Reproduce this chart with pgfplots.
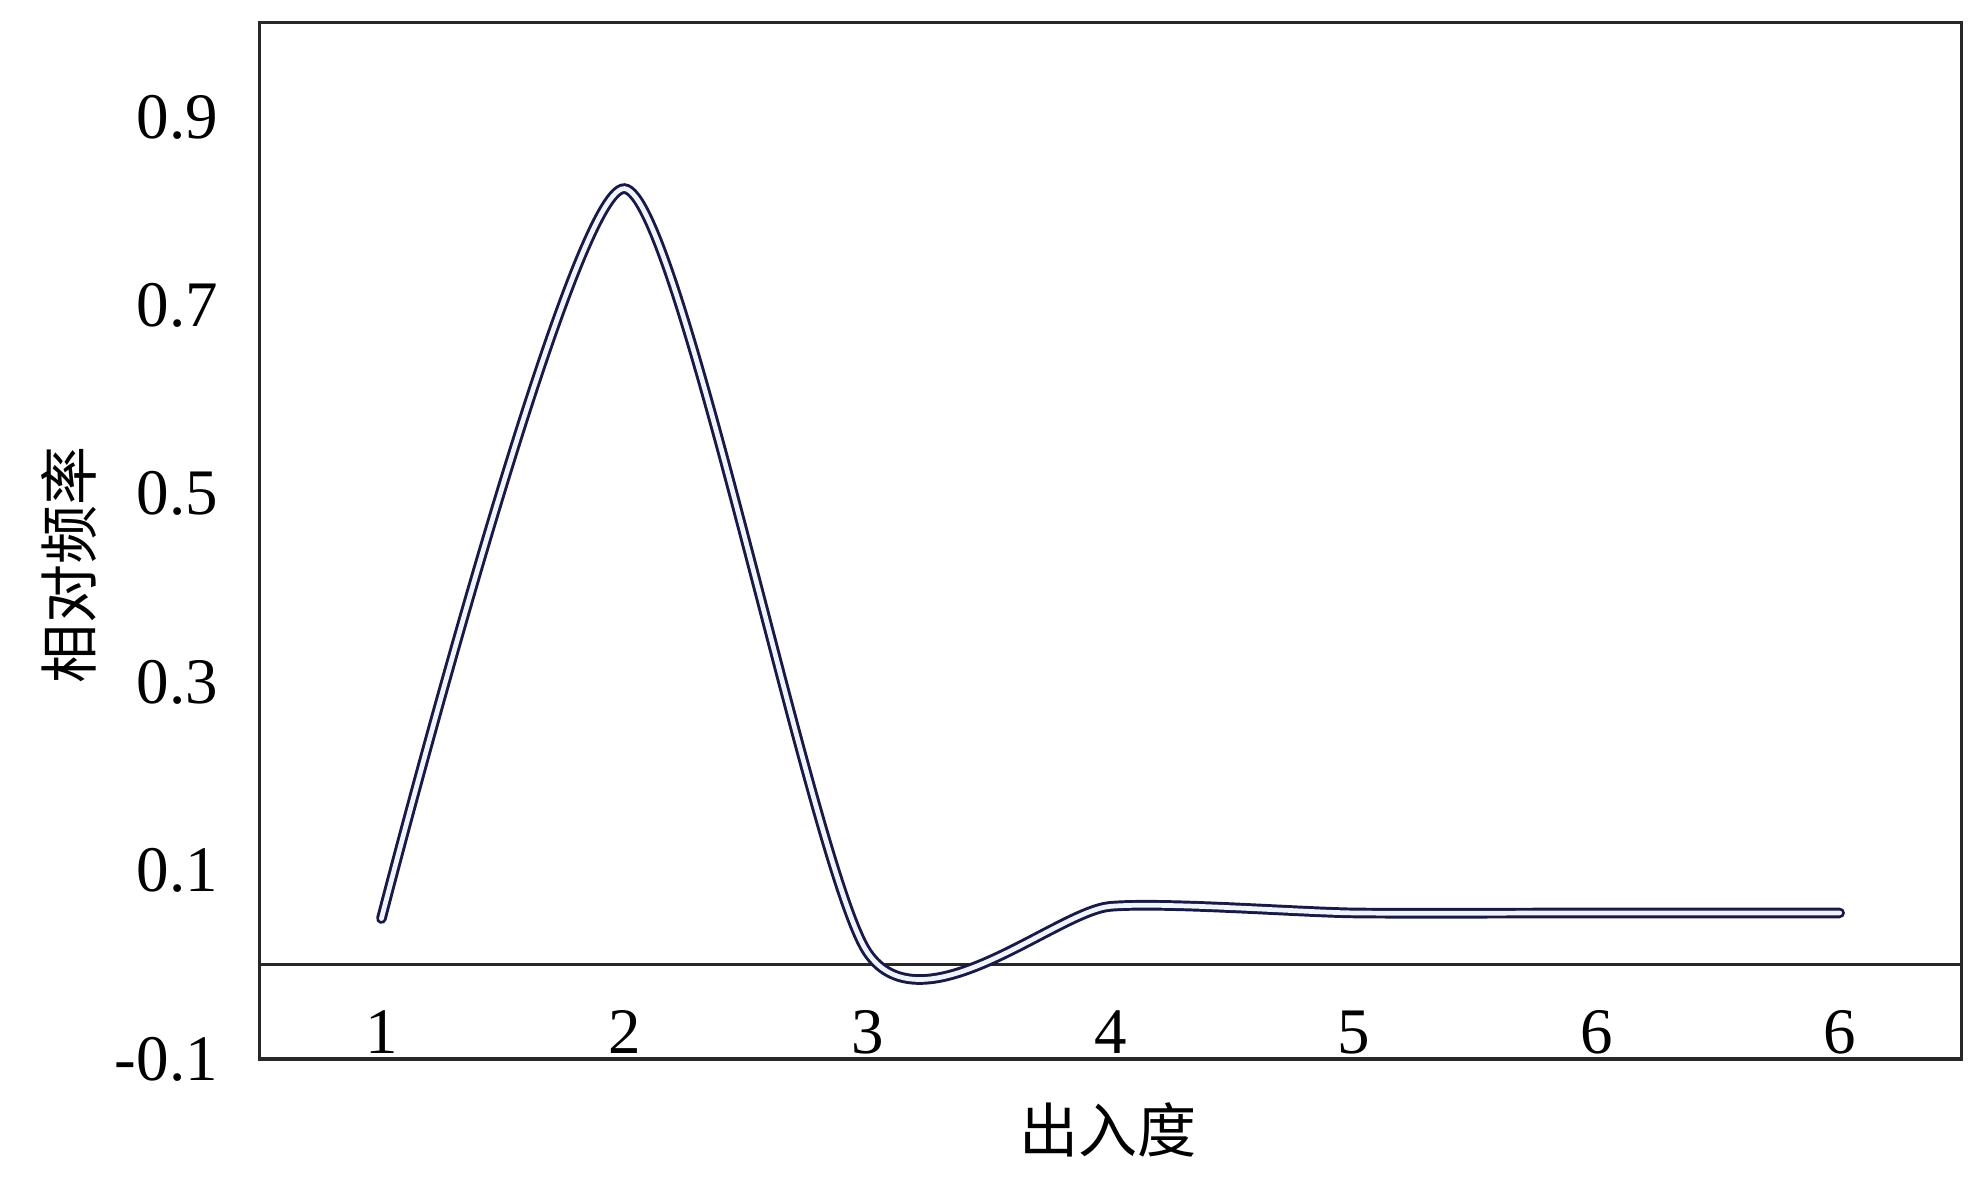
\documentclass[border=0pt]{standalone}
\usepackage{fontspec}
\setmainfont{Liberation Serif}
\newfontfamily\cjk{Noto Sans CJK SC}
\usepackage{pgfplots}
\pgfplotsset{compat=1.18}
\definecolor{curveline}{RGB}{25,25,70}
\definecolor{curvefill}{RGB}{240,244,252}
\definecolor{frame}{RGB}{40,40,40}

\begin{document}
\begin{tikzpicture}
\begin{axis}[
  scale only axis,
  width=432pt, height=263.1pt,
  xmin=-0.5, xmax=6.5,
  ymin=-0.1, ymax=1.0,
  xtick={0,...,6},
  xticklabels={1,2,3,4,5,6,6},
  ytick={-0.1,0.1,0.3,0.5,0.7,0.9},
  yticklabels={-0.1,0.1,0.3,0.5,0.7,0.9},
  major tick length=0pt,
  tick label style={font=\fontsize{16.5}{18}\selectfont},
  xticklabel style={anchor=base, yshift=1.5pt},
  yticklabel style={inner sep=0pt, xshift=-10.5pt},
  axis line style={frame, line width=0.8pt},
  extra y ticks={0},
  extra y tick labels={},
  extra y tick style={grid=major, major grid style={frame, line width=0.8pt}},
  xlabel={\cjk 出入度},
  ylabel={\cjk 相对频率},
  label style={font=\fontsize{15}{17}\selectfont},
  xlabel style={at={(axis description cs:0.4985,-0.0685)}, anchor=center},
  ylabel style={at={(axis description cs:-0.1123,0.4768)}, anchor=center},
  clip=false,
]
% relative frequency by in/out degree
\addplot[curveline, line width=0.75pt, double=curvefill, double distance=1.2pt,
         smooth, tension=0.4, line cap=round] coordinates {
  (0,0.049) (1,0.824) (2,0.013) (3,0.062) (4,0.055) (5,0.055) (6,0.055)
};
\end{axis}
\pgfresetboundingbox
\path ([shift={(-66pt,-30.5pt)}]current axis.south west)
  rectangle ([shift={(2pt,5.8pt)}]current axis.north east);
\end{tikzpicture}
\end{document}
